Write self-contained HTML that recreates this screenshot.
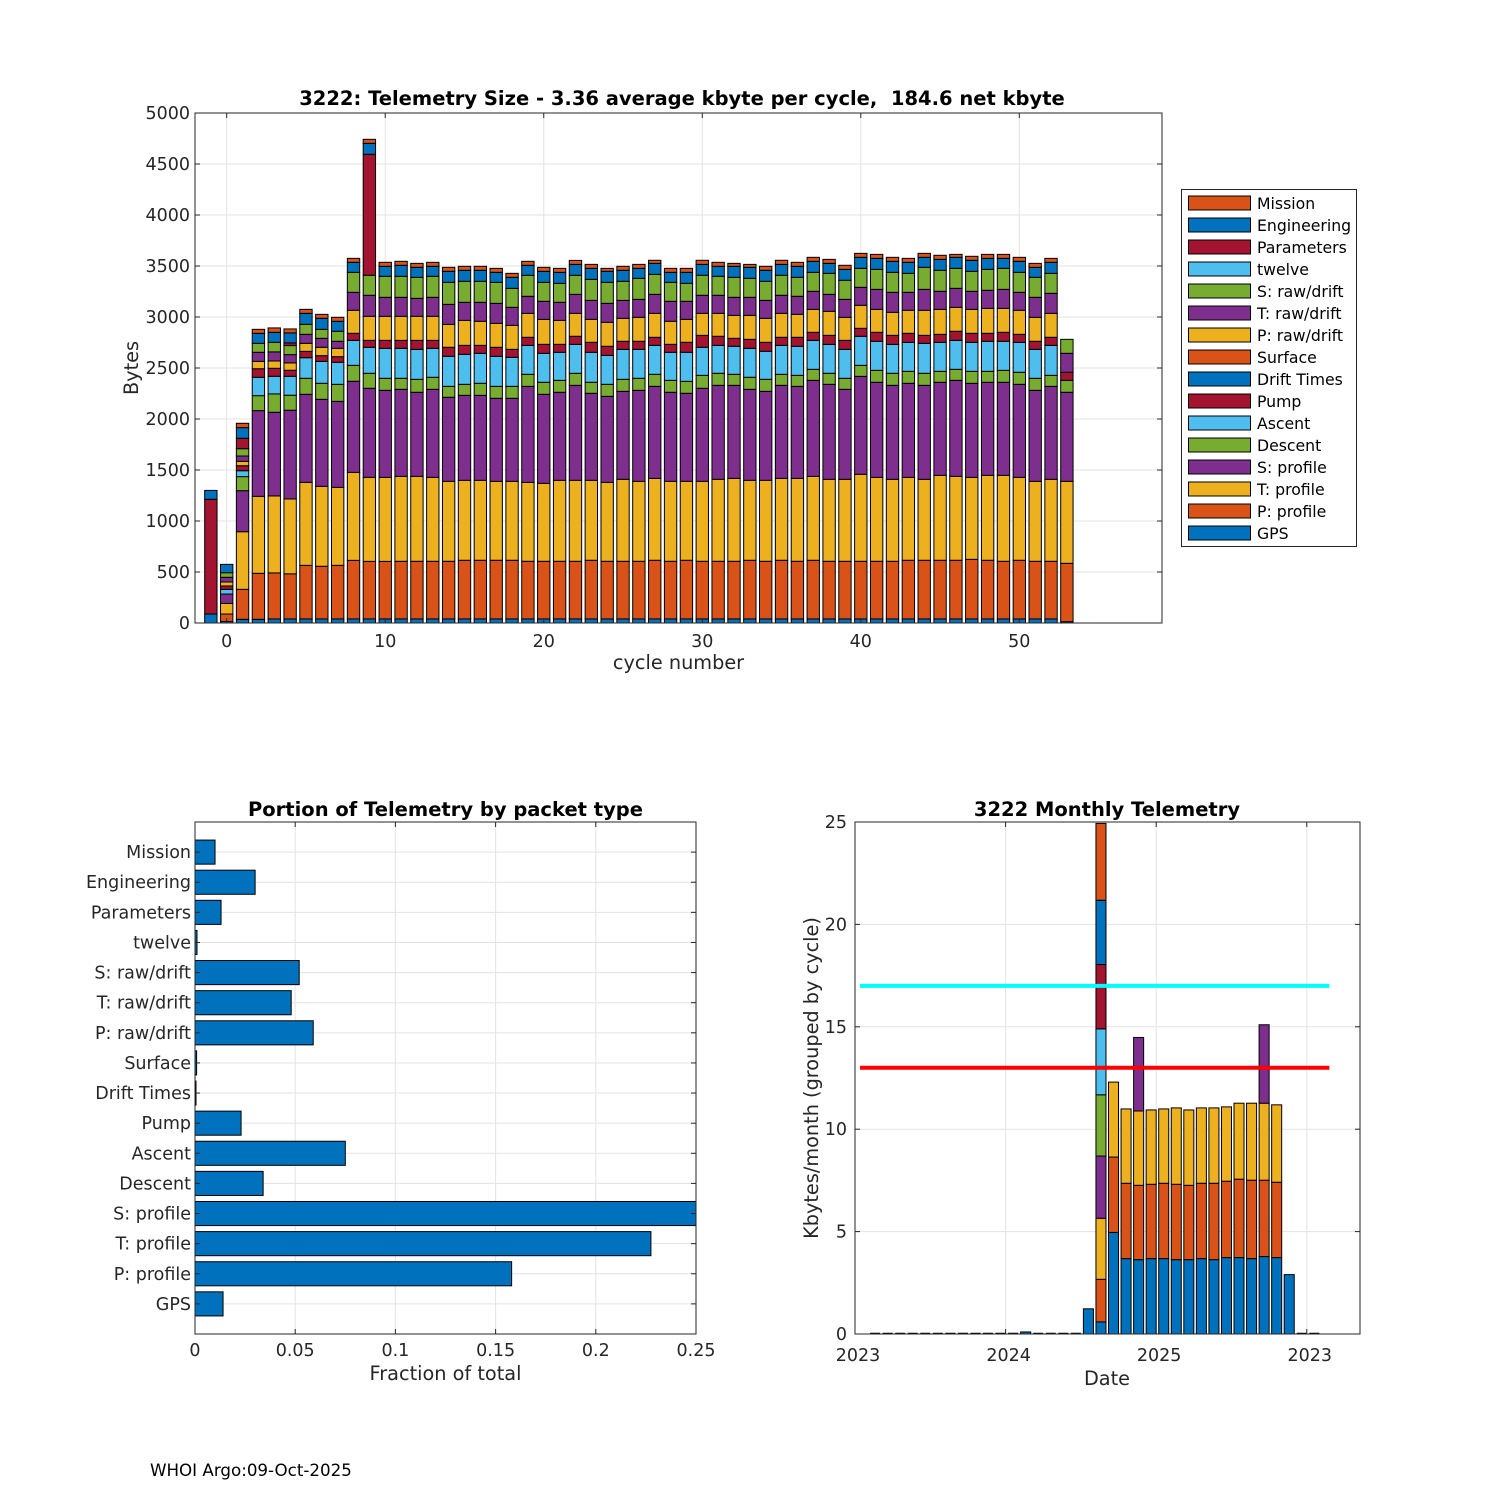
<!DOCTYPE html>
<html><head><meta charset="utf-8"><style>
html,body{margin:0;padding:0;background:#fff;}
svg{display:block;font-family:"DejaVu Sans","Liberation Sans",sans-serif;}
</style></head><body>
<svg id="fig" width="1500" height="1500" viewBox="0 0 1500 1500" xmlns="http://www.w3.org/2000/svg">
<defs><clipPath id="fracClip"><rect x="195" y="822" width="501" height="512"/></clipPath></defs>
<rect x="0" y="0" width="1500" height="1500" fill="#fff"/>
<g id="top"></g>
<g id="frac"></g>
<g id="month"></g>
<text x="150" y="1476" font-size="16.7" fill="#000">WHOI Argo:09-Oct-2025</text>
</svg>
<script>
// ---------- Top chart data ----------
const cycles = [-1,0,1,2,3,4,5,6,7,8,9,10,11,12,13,14,15,16,17,18,19,20,21,22,23,24,25,26,27,28,29,30,31,32,33,34,35,36,37,38,39,40,41,42,43,44,45,46,47,48,49,50,51,52,53];
const seriesNames = ["GPS","P: profile","T: profile","S: profile","Descent","Ascent","Pump","Drift Times","Surface","P: raw/drift","T: raw/drift","S: raw/drift","twelve","Parameters","Engineering","Mission"];
const gpsVals = [88,15,36,36,40,40,40,40,40,40,40,40,40,40,40,40,40,40,40,40,40,40,40,40,40,40,40,40,40,40,40,40,40,40,40,40,40,40,40,40,40,40,40,40,40,40,40,40,40,40,40,40,40,40,13];
const pProfVals = [0,73,294,451,451,442,525,516,525,574,564,564,565,565,565,565,575,575,575,575,565,565,565,565,575,565,565,565,575,565,575,565,565,565,575,565,575,565,575,565,565,565,565,565,575,575,575,575,584,575,565,575,565,565,572];
const tProfVals = [0,104,565,755,755,734,814,784,765,863,824,824,833,833,823,784,784,784,774,774,774,764,794,794,784,774,804,784,803,784,774,784,804,813,784,794,803,813,823,804,804,853,823,804,813,794,833,823,804,833,843,813,784,804,804];
const sProfVals = [0,92,402,840,820,870,863,853,843,893,873,853,853,824,863,824,833,833,814,814,941,873,863,931,853,843,862,892,902,873,863,912,921,912,892,872,912,902,941,931,882,960,932,921,922,921,912,941,922,912,912,912,892,911,873];
const descentVals = [0,0,138,147,180,147,157,157,167,156,147,118,108,127,118,107,108,118,117,117,118,118,117,118,108,118,118,118,118,117,117,127,118,108,118,118,108,108,108,108,108,108,117,118,117,118,107,108,117,107,117,118,118,108,117];
const ascentVals = [0,46,58,180,173,186,202,215,216,245,255,294,294,294,284,295,294,294,295,285,284,284,275,284,294,284,294,284,284,275,285,275,274,275,284,275,284,285,284,284,284,285,285,284,285,294,285,284,285,295,285,294,284,294,0];
const pumpVals = [0,33,49,84,78,59,62,56,55,69,68,78,78,88,78,88,88,78,88,78,79,88,78,79,98,89,79,79,79,78,98,117,89,78,88,88,79,88,79,88,88,78,88,88,88,78,78,89,88,78,88,78,79,79,79];
const driftVals = [0,0,0,0,0,0,0,0,0,0,0,0,0,0,0,0,0,0,0,0,0,0,0,0,0,0,0,0,0,0,0,0,0,0,0,0,0,0,0,0,0,0,0,0,0,0,0,0,0,0,0,0,0,0,0];
const surfaceVals = [0,0,0,0,0,0,0,0,0,0,0,0,0,0,0,0,0,0,0,0,0,0,0,0,0,0,0,0,0,0,0,0,0,0,0,0,0,0,0,0,0,0,0,0,0,0,0,0,0,0,0,0,0,0,0];
const pRawVals = [0,39,43,72,72,72,79,82,82,226,236,236,236,236,236,225,245,236,235,235,235,245,235,225,225,235,225,235,235,226,225,216,225,225,235,235,235,225,225,236,226,226,225,226,226,246,245,235,235,245,235,236,235,235,0];
const tRawVals = [0,46,52,89,89,81,88,88,69,176,206,186,186,176,186,196,177,186,196,177,167,177,177,186,186,186,176,176,186,196,177,177,177,177,177,176,177,177,177,166,176,176,196,196,176,205,177,186,177,177,186,176,196,196,186];
const sRawVals = [0,45,72,88,94,89,98,88,98,196,196,206,206,206,206,216,206,206,206,186,206,186,186,187,206,206,187,206,196,186,176,196,186,196,186,187,196,186,186,206,187,186,196,196,186,216,206,196,196,205,206,196,196,196,137];
const twelveVals = [0,0,0,0,0,0,0,0,0,0,0,0,0,0,0,0,0,0,0,0,0,0,0,0,0,0,0,0,0,0,0,0,0,0,0,0,0,0,0,0,0,0,0,0,0,0,0,0,0,0,0,0,0,0,0];
const paramVals = [1125,0,102,0,0,26,0,0,0,0,1186,0,0,0,0,0,0,0,0,0,0,0,0,0,0,0,0,0,0,0,0,0,0,0,0,0,0,0,0,0,0,0,0,0,0,0,0,0,0,0,0,0,0,0,0];
const engVals = [87,82,104,98,98,98,108,108,98,98,108,98,108,98,98,108,108,108,98,108,98,108,108,107,108,108,108,98,108,98,108,107,98,108,108,108,107,108,108,98,107,108,108,108,108,98,107,108,108,108,98,108,98,108,0];
const missionVals = [0,0,43,39,43,39,39,39,39,39,39,39,39,39,39,39,39,39,39,39,39,39,39,39,39,29,39,39,30,39,39,40,39,29,29,39,40,39,39,39,40,39,39,39,39,39,40,29,39,39,39,39,39,39,0];
const yTicksTop = [0,500,1000,1500,2000,2500,3000,3500,4000,4500,5000];
const xTicksTop = [0,10,20,30,40,50];

// ---------- Fraction chart data ----------
const fracCategories = ["GPS","P: profile","T: profile","S: profile","Descent","Ascent","Pump","Drift Times","Surface","P: raw/drift","T: raw/drift","S: raw/drift","twelve","Parameters","Engineering","Mission"];
const fracValues = [0.014,0.158,0.2275,0.256,0.034,0.075,0.023,0.0005,0.0008,0.059,0.048,0.052,0.001,0.013,0.030,0.010];
const fracTicks = [0,0.05,0.1,0.15,0.2,0.25];
const fracTickLabels = ["0","0.05","0.1","0.15","0.2","0.25"];

// ---------- Monthly chart data (kbytes per layer, 36 monthly bars) ----------
const monthLayer1 = [0,0,0,0,0,0,0,0,0,0,0,0,0.1,0,0,0,0,1.23,0.59,4.96,3.68,3.63,3.68,3.68,3.63,3.63,3.68,3.63,3.73,3.73,3.68,3.78,3.73,2.9,0,0];
const monthLayer2 = [0,0,0,0,0,0,0,0,0,0,0,0,0,0,0,0,0,0,2.08,3.68,3.68,3.63,3.63,3.68,3.68,3.63,3.68,3.73,3.73,3.83,3.83,3.73,3.68,0,0,0];
const monthLayer3 = [0,0,0,0,0,0,0,0,0,0,0,0,0,0,0,0,0,0,2.98,3.66,3.63,3.63,3.63,3.63,3.73,3.68,3.68,3.68,3.63,3.71,3.76,3.76,3.78,0,0,0];
const monthLayer4 = [0,0,0,0,0,0,0,0,0,0,0,0,0,0,0,0,0,0,3.04,0,0,3.59,0,0,0,0,0,0,0,0,0,3.83,0,0,0,0];
const monthLayer5 = [0,0,0,0,0,0,0,0,0,0,0,0,0,0,0,0,0,0,2.99,0,0,0,0,0,0,0,0,0,0,0,0,0,0,0,0,0];
const monthLayer6 = [0,0,0,0,0,0,0,0,0,0,0,0,0,0,0,0,0,0,3.22,0,0,0,0,0,0,0,0,0,0,0,0,0,0,0,0,0];
const monthLayer7 = [0,0,0,0,0,0,0,0,0,0,0,0,0,0,0,0,0,0,3.14,0,0,0,0,0,0,0,0,0,0,0,0,0,0,0,0,0];
const monthLayer8 = [0,0,0,0,0,0,0,0,0,0,0,0,0,0,0,0,0,0,3.14,0,0,0,0,0,0,0,0,0,0,0,0,0,0,0,0,0];
const monthLayer9 = [0,0,0,0,0,0,0,0,0,0,0,0,0,0,0,0,0,0,3.75,0,0,0,0,0,0,0,0,0,0,0,0,0,0,0,0,0];
const monthTicks = [0,12,24,36];
const monthTickLabels = ["2023","2024","2025","2023"];
const monthYTicks = [0,5,10,15,20,25];
const limitHigh = 17;
const limitLow = 13;

const COLORS = ["#0072BD","#D95319","#EDB120","#7E2F8E","#77AC30","#4DBEEE","#A2142F"];
const NS = "http://www.w3.org/2000/svg";
const TICKFS = 17.5, AXFS = 19.3, TITLEFS = 19.5;
function mk(tag, attrs, parent, text){
  const e = document.createElementNS(NS, tag);
  for (const k in attrs) e.setAttribute(k, attrs[k]);
  if (text !== undefined) e.textContent = text;
  parent.appendChild(e);
  return e;
}
const GRID = "#e3e3e3", AX = "#262626";

// ================= TOP CHART =================
(function(){
  const g = document.getElementById('top');
  const L=195, R=1162, T=113, B=623, xmin=-2, xmax=59, ymax=5000;
  const xs = v => L + (v - xmin)/(xmax - xmin)*(R-L);
  const ys = v => B - v/ymax*(B-T);
  const grid = mk('g', {}, g);
  
  
  yTicksTop.forEach(t=>{ mk('line',{x1:L,x2:R,y1:ys(t),y2:ys(t),stroke:GRID,'stroke-width':1},grid); });
  xTicksTop.forEach(t=>{ mk('line',{x1:xs(t),x2:xs(t),y1:T,y2:B,stroke:GRID,'stroke-width':1},grid); });
  const series = [gpsVals,pProfVals,tProfVals,sProfVals,descentVals,ascentVals,pumpVals,driftVals,surfaceVals,pRawVals,tRawVals,sRawVals,twelveVals,paramVals,engVals,missionVals];
  const bw = 0.78;
  cycles.forEach((c,i)=>{
    let cum = 0;
    const bg = mk('g',{},g);
    
    
    series.forEach((s,k)=>{
      const v = s[i];
      if (!v) { return; }
      const y0 = ys(cum), y1 = ys(cum+v);
      const r = mk('rect',{x:xs(c-bw/2),y:y1,width:xs(c+bw/2)-xs(c-bw/2),height:y0-y1,fill:COLORS[k%7],stroke:'#000','stroke-width':1},bg);
      
      
      cum += v;
    });
  });
  mk('rect',{x:L,y:T,width:R-L,height:B-T,fill:'none',stroke:AX,'stroke-width':1},g);
  yTicksTop.forEach(t=>{
    mk('line',{x1:L,x2:L+5,y1:ys(t),y2:ys(t),stroke:AX},g);
    mk('line',{x1:R,x2:R-5,y1:ys(t),y2:ys(t),stroke:AX},g);
    const tx = mk('text',{x:L-5,y:ys(t)+6,'font-size':TICKFS,'text-anchor':'end',fill:AX},g,String(t));
    
    
  });
  xTicksTop.forEach(t=>{
    mk('line',{x1:xs(t),x2:xs(t),y1:B,y2:B-5,stroke:AX},g);
    mk('line',{x1:xs(t),x2:xs(t),y1:T,y2:T+5,stroke:AX},g);
    const tx = mk('text',{x:xs(t),y:B+24,'font-size':TICKFS,'text-anchor':'middle',fill:AX},g,String(t));
    
    
  });
  const xt = mk('text',{x:(L+R)/2,y:669,'font-size':AXFS,'text-anchor':'middle',fill:AX},g,'cycle number');
  
  
  const yt = mk('text',{x:0,y:0,'font-size':AXFS,'text-anchor':'middle',fill:AX,transform:'translate(138,368) rotate(-90)'},g,'Bytes');
  
  
  const tt = mk('text',{x:682,y:105,'font-size':TITLEFS,'font-weight':'bold','text-anchor':'middle',fill:'#000',style:'white-space:pre'},g,'3222: Telemetry Size - 3.36 average kbyte per cycle,  184.6 net kbyte');
  
  
  // legend
  const lg = mk('g',{},g);
  
  
  mk('rect',{x:1181.5,y:189.5,width:175,height:357,fill:'#fff',stroke:AX,'stroke-width':1},lg);
  for (let j=0;j<16;j++){
    const k = 15-j;
    const cy = 203 + j*22;
    const e = mk('g',{},lg);
    
    
    mk('rect',{x:1188.5,y:cy-7,width:62,height:14,fill:COLORS[k%7],stroke:'#000','stroke-width':1},e);
    mk('text',{x:1257,y:cy+6,'font-size':15.7,fill:'#000'},e,seriesNames[k]);
  }
})();

// ================= FRACTION CHART =================
(function(){
  const g = document.getElementById('frac');
  const L=195, R=696, T=822, B=1334, xmax=0.25, ymax=17;
  const xf = v => L + v/xmax*(R-L);
  const yf = k => B - k/ymax*(B-T);
  const grid = mk('g',{},g);
  
  
  fracTicks.forEach(t=>{ mk('line',{x1:xf(t),x2:xf(t),y1:T,y2:B,stroke:GRID},grid); });
  fracCategories.forEach((c,i)=>{ mk('line',{x1:L,x2:R,y1:yf(i+1),y2:yf(i+1),stroke:GRID},grid); });
  const bars = mk('g',{'clip-path':'url(#fracClip)'},g);
  fracCategories.forEach((c,i)=>{
    const y1 = yf(i+1+0.4), y0 = yf(i+1-0.4);
    const r = mk('rect',{x:xf(0),y:y1,width:Math.max(0.5,xf(fracValues[i])-xf(0)),height:y0-y1,fill:'#0072BD',stroke:'#000','stroke-width':1},bars);
    
    
  });
  mk('rect',{x:L,y:T,width:R-L,height:B-T,fill:'none',stroke:AX},g);
  fracTicks.forEach((t,i)=>{
    mk('line',{x1:xf(t),x2:xf(t),y1:B,y2:B-5,stroke:AX},g);
    mk('line',{x1:xf(t),x2:xf(t),y1:T,y2:T+5,stroke:AX},g);
    const tx = mk('text',{x:xf(t),y:B+22,'font-size':TICKFS,'text-anchor':'middle',fill:AX},g,fracTickLabels[i]);
    
    
  });
  fracCategories.forEach((c,i)=>{
    mk('line',{x1:L,x2:L+5,y1:yf(i+1),y2:yf(i+1),stroke:AX},g);
    mk('line',{x1:R,x2:R-5,y1:yf(i+1),y2:yf(i+1),stroke:AX},g);
    const tx = mk('text',{x:L-4,y:yf(i+1)+6,'font-size':TICKFS,'text-anchor':'end',fill:AX},g,c);
    
    
  });
  const xt = mk('text',{x:(L+R)/2,y:1380,'font-size':AXFS,'text-anchor':'middle',fill:AX},g,'Fraction of total');
  
  
  const tt = mk('text',{x:(L+R)/2,y:816,'font-size':TITLEFS,'font-weight':'bold','text-anchor':'middle',fill:'#000'},g,'Portion of Telemetry by packet type');
  
  
})();

// ================= MONTHLY CHART =================
(function(){
  const g = document.getElementById('month');
  const L=855, R=1360, T=822, B=1334, xmax=40.24, ymax=25;
  const xm = m => L + m/xmax*(R-L);
  const ym = v => B - v/ymax*(B-T);
  const grid = mk('g',{},g);
  
  
  monthTicks.forEach(t=>{ mk('line',{x1:xm(t),x2:xm(t),y1:T,y2:B,stroke:GRID},grid); });
  monthYTicks.forEach(t=>{ mk('line',{x1:L,x2:R,y1:ym(t),y2:ym(t),stroke:GRID},grid); });
  const layers = [monthLayer1,monthLayer2,monthLayer3,monthLayer4,monthLayer5,monthLayer6,monthLayer7,monthLayer8,monthLayer9];
  const bw = 0.8;
  monthLayer1.forEach((_,i)=>{
    const m = i + 1.6;
    const bg = mk('g',{},g);
    
    
    let cum = 0;
    layers.forEach((ly,k)=>{
      const v = ly[i];
      if (!v) return;
      const r = mk('rect',{x:xm(m-bw/2),y:ym(cum+v),width:xm(m+bw/2)-xm(m-bw/2),height:ym(cum)-ym(cum+v),fill:COLORS[k%7],stroke:'#000','stroke-width':1},bg);
      
      
      cum += v;
    });
    if (cum === 0) {
      mk('line',{x1:xm(m-bw/2),x2:xm(m+bw/2),y1:B-0.5,y2:B-0.5,stroke:'#000','stroke-width':1.5},bg);
    }
  });
  const lh = mk('line',{x1:xm(0.4),x2:xm(37.8),y1:ym(limitHigh),y2:ym(limitHigh),stroke:'#00FFFF','stroke-width':4},g);
  
  
  const ll = mk('line',{x1:xm(0.4),x2:xm(37.8),y1:ym(limitLow),y2:ym(limitLow),stroke:'#FF0000','stroke-width':4},g);
  
  
  mk('rect',{x:L,y:T,width:R-L,height:B-T,fill:'none',stroke:AX},g);
  monthTicks.forEach((t,i)=>{
    mk('line',{x1:xm(t),x2:xm(t),y1:B,y2:B-5,stroke:AX},g);
    mk('line',{x1:xm(t),x2:xm(t),y1:T,y2:T+5,stroke:AX},g);
    const tx = mk('text',{x:xm(t)+3,y:B+27,'font-size':TICKFS,'text-anchor':'middle',fill:AX},g,monthTickLabels[i]);
    
    
  });
  monthYTicks.forEach(t=>{
    mk('line',{x1:L,x2:L+5,y1:ym(t),y2:ym(t),stroke:AX},g);
    mk('line',{x1:R,x2:R-5,y1:ym(t),y2:ym(t),stroke:AX},g);
    const tx = mk('text',{x:L-8,y:ym(t)+6,'font-size':TICKFS,'text-anchor':'end',fill:AX},g,String(t));
    
    
  });
  const xt = mk('text',{x:1107,y:1385,'font-size':AXFS,'text-anchor':'middle',fill:AX},g,'Date');
  
  
  const yt = mk('text',{x:0,y:0,'font-size':AXFS,'text-anchor':'middle',fill:AX,transform:'translate(818,1078) rotate(-90)'},g,'Kbytes/month (grouped by cycle)');
  
  
  const tt = mk('text',{x:1107,y:816,'font-size':TITLEFS,'font-weight':'bold','text-anchor':'middle',fill:'#000'},g,'3222 Monthly Telemetry');
  
  
})();
</script>
</body></html>
